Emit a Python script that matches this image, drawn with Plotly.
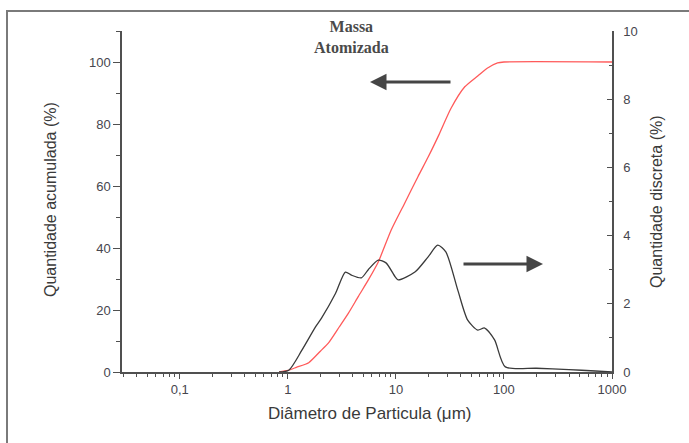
import numpy as np
import plotly.graph_objects as go

# Cumulative particle size distribution (left axis, %)
cum_diam = [0.83, 1.0, 1.2, 1.56, 2.0, 2.38, 3.0, 3.64, 4.5, 5.56, 6.87, 9.05,
            12, 16, 20, 25, 32.3, 43.4, 57.2, 70, 87.3, 100, 1000]
cum_pct = [0, 0.5, 1.5, 3, 6.7, 9.4, 14.6, 19, 24.4, 29.7, 35.5, 45.8,
           54.3, 63, 69.5, 76.5, 85, 92, 95.5, 98, 99.7, 100, 100]

# Discrete (frequency) distribution (right axis, %)
disc_diam = [0.83, 1.02, 1.35, 1.81, 2.05, 2.76, 3.41, 3.88, 4.79, 5.55, 6.87, 8.1,
             9.85, 10.5, 15.0, 19.8, 24.4, 29.0, 37.4, 46.2, 57.2, 66.3, 81.9,
             103, 200, 400, 700, 1000]
disc_pct = [0, 0.05, 0.64, 1.33, 1.58, 2.3, 2.93, 2.84, 2.76, 3.0, 3.28, 3.2,
            2.79, 2.7, 2.93, 3.37, 3.72, 3.52, 2.4, 1.52, 1.23, 1.29, 0.94,
            0.15, 0.11, 0.07, 0.03, 0.0]

x_tickvals = [0.1, 1, 10, 100, 1000]
x_ticktext = ["0,1", "1", "10", "100", "1000"]
x_minor = [k * 10.0 ** n for n in range(-2, 3) for k in range(2, 10)
           if 0.03 <= k * 10.0 ** n <= 1000]

axis_col = "#505050"
tick_font = dict(family="Liberation Sans, Arial", size=13, color="#46464e")
title_font = dict(family="Liberation Sans, Arial", size=16, color="#3a3a3a")


def px(xp):
    return (xp - 122) / 490


def py(yp):
    return (372 - yp) / 341


fig = go.Figure()
fig.add_trace(go.Scatter(x=cum_diam, y=cum_pct, mode="lines",
                         line=dict(color="#ff5a5a", width=1.3, shape="spline", smoothing=0.6),
                         showlegend=False))
fig.add_trace(go.Scatter(x=disc_diam, y=disc_pct, mode="lines", yaxis="y2",
                         line=dict(color="#3a3a3a", width=1.3, shape="spline", smoothing=0.7),
                         showlegend=False))

fig.update_layout(
    width=689, height=443,
    margin=dict(l=122, r=77, t=31, b=71),
    paper_bgcolor="white", plot_bgcolor="white",
    font=dict(family="Liberation Sans, Arial", color="#3a3a3a"),
    xaxis=dict(type="log", range=[np.log10(0.0292), 3], showgrid=False, zeroline=False,
               showline=True, linecolor=axis_col, linewidth=1.5,
               ticks="outside", ticklen=5, tickwidth=1.2, tickcolor=axis_col,
               tickvals=x_tickvals, ticktext=x_ticktext, tickfont=tick_font,
               minor=dict(tickvals=x_minor, ticks="outside", ticklen=3,
                          tickcolor=axis_col, tickwidth=1.2, showgrid=False)),
    yaxis=dict(range=[0, 110], showgrid=False, zeroline=False,
               showline=True, linecolor=axis_col, linewidth=1.5,
               ticks="outside", ticklen=7, tickwidth=1.2, tickcolor=axis_col,
               tickvals=[0, 20, 40, 60, 80, 100], tickfont=tick_font,
               minor=dict(tickvals=[10, 30, 50, 70, 90, 110], ticks="outside",
                          ticklen=4, tickcolor=axis_col, tickwidth=1.2, showgrid=False)),
    yaxis2=dict(range=[0, 10], overlaying="y", side="right", showgrid=False, zeroline=False,
                showline=True, linecolor=axis_col, linewidth=1.5,
                ticks="inside", ticklen=5, tickwidth=1.2, tickcolor=axis_col,
                tickvals=[0, 2, 4, 6, 8, 10], tickfont=tick_font, ticklabelstandoff=7,
                minor=dict(tickvals=[1, 3, 5, 7, 9], ticks="inside", ticklen=3,
                           tickcolor=axis_col, tickwidth=1.2, showgrid=False)),
)

# Outer frame
fig.add_shape(type="rect", xref="paper", yref="paper",
              x0=px(7), x1=px(700), y0=py(460), y1=py(11),
              line=dict(color="#7a7a7a", width=2), fillcolor="rgba(0,0,0,0)", layer="below")

# Axis titles
fig.add_annotation(text="Quantidade acumulada (%)", xref="paper", yref="paper",
                   x=px(50), y=py(200), xanchor="center", yanchor="middle", textangle=-90,
                   showarrow=False, font=title_font)
fig.add_annotation(text="Quantidade discreta (%)", xref="paper", yref="paper",
                   x=px(656), y=py(202), xanchor="center", yanchor="middle", textangle=-90,
                   showarrow=False, font=title_font)
fig.add_annotation(text="Diâmetro de Particula (μm)", xref="paper", yref="paper",
                   x=px(369), y=py(414), xanchor="center", yanchor="middle",
                   showarrow=False, font=dict(family="Liberation Sans, Arial", size=17, color="#3a3a3a"))

# Curve label and pointer arrows
fig.add_annotation(text="<b>Massa<br>Atomizada</b>", xref="paper", yref="paper",
                   x=px(351), y=py(37), xanchor="center", yanchor="middle", showarrow=False,
                   font=dict(family="Liberation Serif, Times New Roman", size=16, color="#4a4a4a"))
fig.add_annotation(xref="paper", yref="paper", x=px(370), y=py(82),
                   ax=82, ay=0, axref="pixel", ayref="pixel", text="",
                   showarrow=True, arrowhead=2, arrowsize=1.1, arrowwidth=3,
                   arrowcolor="#454545")
fig.add_annotation(xref="paper", yref="paper", x=px(543), y=py(264),
                   ax=-81, ay=0, axref="pixel", ayref="pixel", text="",
                   showarrow=True, arrowhead=2, arrowsize=1.1, arrowwidth=3,
                   arrowcolor="#454545")

fig.write_html("out.html")
